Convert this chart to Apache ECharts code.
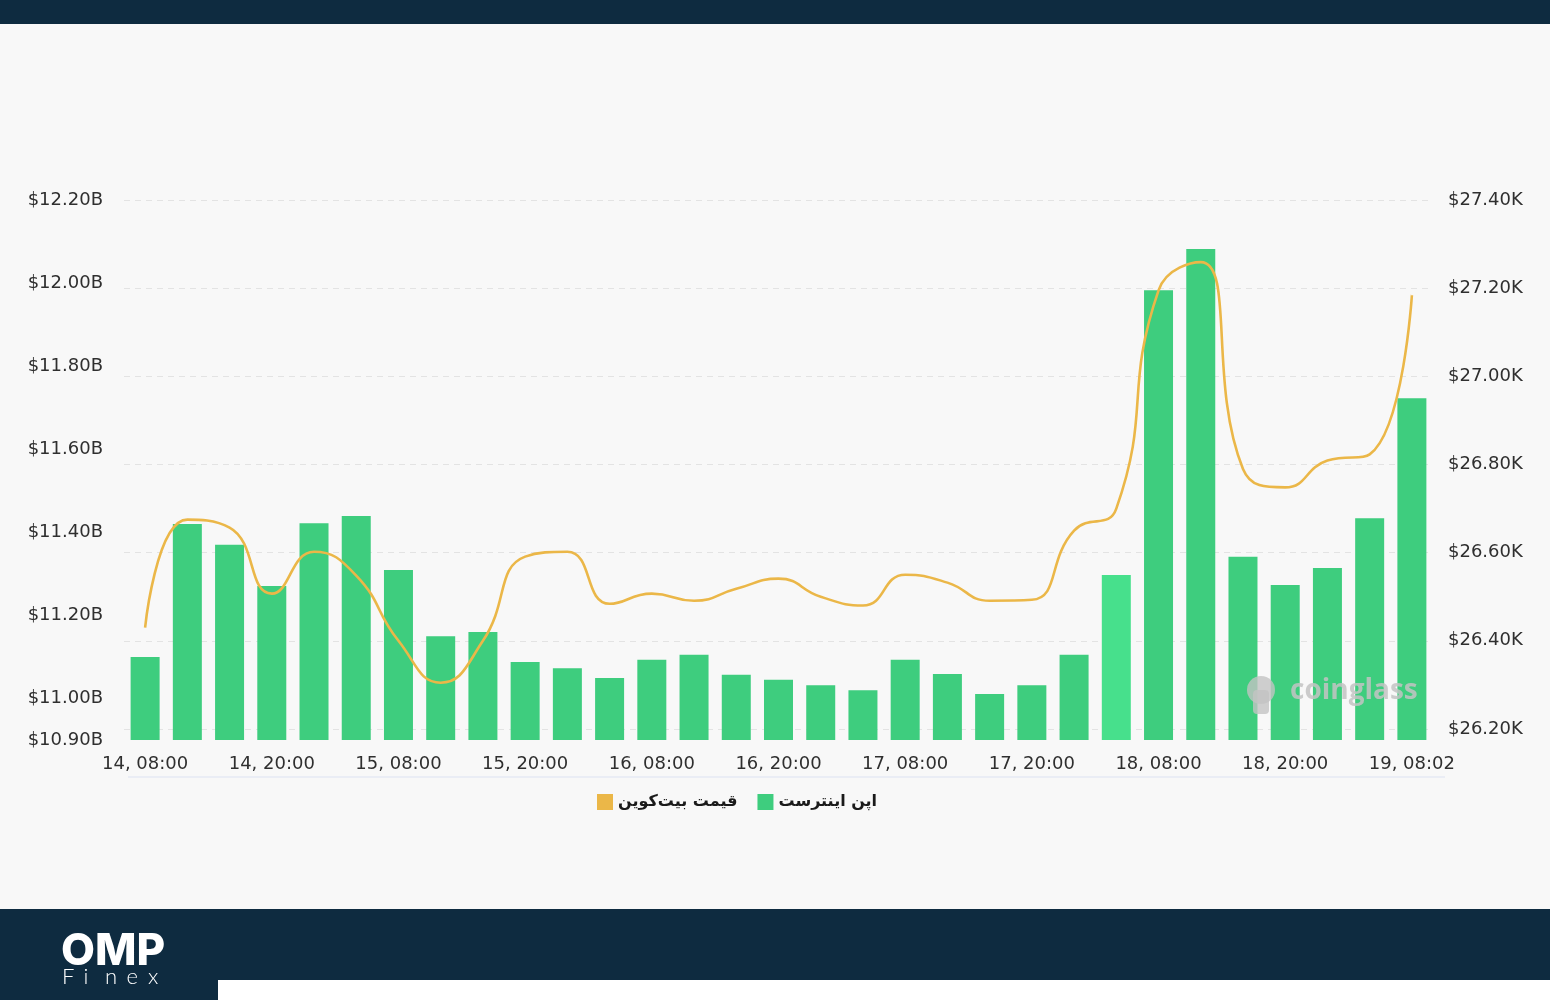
<!DOCTYPE html>
<html>
<head>
<meta charset="utf-8">
<script src="https://cdn.jsdelivr.net/npm/echarts@6/dist/echarts.min.js"></script>
<style>
html,body{margin:0;padding:0;background:#f8f8f8;}
#chart{width:1550px;height:1000px;}
</style>
</head>
<body>
<div id="chart"></div>
<script>
// ---- data ----
const categories = [
  "14, 08:00","14, 12:00","14, 16:00","14, 20:00",
  "15, 00:00","15, 04:00","15, 08:00","15, 12:00","15, 16:00","15, 20:00",
  "16, 00:00","16, 04:00","16, 08:00","16, 12:00","16, 16:00","16, 20:00",
  "17, 00:00","17, 04:00","17, 08:00","17, 12:00","17, 16:00","17, 20:00",
  "18, 00:00","18, 04:00","18, 08:00","18, 12:00","18, 16:00","18, 20:00",
  "19, 00:00","19, 04:00","19, 08:02"
];
// Open interest, billions USD
const openInterest = [
  11.100, 11.420, 11.370, 11.271, 11.422, 11.439, 11.309, 11.150, 11.160, 11.088,
  11.073, 11.049, 11.093, 11.105, 11.057, 11.045, 11.032, 11.020, 11.093, 11.059,
  11.011, 11.032, 11.105, 11.297, 11.983, 12.082, 11.341, 11.273, 11.314, 11.434,
  11.723
];
// Bitcoin price, thousands USD
const btcPrice = [
  26.430, 26.675, 26.657, 26.507, 26.602, 26.548, 26.400, 26.305, 26.400, 26.591,
  26.602, 26.484, 26.507, 26.491, 26.518, 26.541, 26.500, 26.480, 26.550, 26.532,
  26.491, 26.493, 26.650, 26.700, 27.195, 27.259, 26.790, 26.748, 26.809, 26.823,
  27.184
];
const leftTicks = [10.9, 11.0, 11.2, 11.4, 11.6, 11.8, 12.0, 12.2];
const rightTicks = [26.2, 26.4, 26.6, 26.8, 27.0, 27.2, 27.4];
const seriesNames = ["قیمت بیت‌کوین", "اپن اینترست"];
const highlightIndex = 23;

const BAR = '#3ecd7e';
const BAR_HI = '#47e08c';
const LINE = '#ebb748';
const LABEL = '#2f2f2f';
const FONT = 'DejaVu Sans';

const chart = echarts.init(document.getElementById('chart'), null, {renderer: 'canvas'});

const finexLetters = ['F','i','n','e','x'];

const option = {
  backgroundColor: '#f8f8f8',
  animation: false,
  grid: {left: 124, right: 117, top: 200, bottom: 260, containLabel: false},
  legend: {
    data: [
      {name: seriesNames[0], icon: 'rect', itemStyle: {color: LINE}},
      {name: seriesNames[1], icon: 'rect', itemStyle: {color: BAR}}
    ],
    left: 592, top: 789,
    itemWidth: 16, itemHeight: 16, itemGap: 20,
    textStyle: {color: '#1a1a1a', fontSize: 16, fontWeight: 'bold', fontFamily: FONT}
  },
  xAxis: {
    type: 'category',
    data: categories,
    boundaryGap: true,
    axisLine: {show: false},
    axisTick: {show: false},
    axisLabel: {interval: 2, color: LABEL, fontSize: 18, fontFamily: FONT, margin: 15}
  },
  yAxis: [
    {
      type: 'value', position: 'left',
      min: 10.9, max: 12.2,
      splitLine: {show: false},
      axisLine: {show: false}, axisTick: {show: false},
      axisLabel: {
        customValues: leftTicks,
        color: LABEL, fontSize: 18, fontFamily: FONT, margin: 21,
        formatter: v => '$' + v.toFixed(2) + 'B'
      }
    },
    {
      type: 'value', position: 'right',
      min: 26.175, max: 27.4,
      splitLine: {show: false},
      axisLine: {show: false}, axisTick: {show: false},
      axisLabel: {
        customValues: rightTicks,
        color: LABEL, fontSize: 18, fontFamily: FONT, margin: 15,
        formatter: v => '$' + v.toFixed(2) + 'K'
      }
    }
  ],
  series: [
    {
      name: '__grid', type: 'line', yAxisIndex: 1, data: categories.map(() => null),
      silent: true, z: 0, showSymbol: false, lineStyle: {opacity: 0},
      markLine: {
        silent: true, symbol: 'none', animation: false, z: 0,
        label: {show: false},
        lineStyle: {color: '#e3e3e3', type: [6, 5], width: 1},
        emphasis: {disabled: true},
        data: rightTicks.map(v => ({yAxis: v}))
      }
    },
    {
      name: seriesNames[1], type: 'bar', yAxisIndex: 0, z: 2,
      barWidth: 29,
      data: openInterest.map((v, i) => i === highlightIndex ? {value: v, itemStyle: {color: BAR_HI}} : v),
      itemStyle: {color: BAR}
    },
    {
      name: seriesNames[0], type: 'line', yAxisIndex: 1, z: 4,
      data: btcPrice, smooth: 0.5, showSymbol: false,
      lineStyle: {color: LINE, width: 2.6},
      itemStyle: {color: LINE}
    }
  ],
  graphic: [
    {type: 'rect', shape: {x: 0, y: 0, width: 1550, height: 24}, style: {fill: '#0e2b40'}, z: 0},
    {type: 'rect', shape: {x: 0, y: 909, width: 1550, height: 91}, style: {fill: '#0e2b40'}, z: 0},
    {type: 'rect', shape: {x: 218, y: 980, width: 1332, height: 20}, style: {fill: '#ffffff'}, z: 1},
    {type: 'line', shape: {x1: 128, y1: 777, x2: 1445, y2: 777}, style: {stroke: '#e6eaf4', lineWidth: 1.5}, z: 0},
    {type: 'text', left: 61, top: 930, style: {text: 'OMP', fill: '#ffffff', font: '800 44px Inter'}, z: 2},
    ...finexLetters.map((ch, i) => ({
      type: 'text', x: 62 + i * 21.5, y: 966,
      style: {text: ch, fill: '#ffffff', font: '300 22px Lato'}, z: 2
    })),
    {type: 'text', x: 1290, y: 677, style: {text: 'coinglass', fill: 'rgba(195,195,195,0.85)', font: 'bold 28px "Open Sans"'}, z: 3},
    {type: 'circle', shape: {cx: 1261, cy: 690, r: 14}, style: {fill: 'rgba(195,195,195,0.8)'}, z: 3},
    {type: 'rect', shape: {x: 1253, y: 690, width: 16, height: 24, r: 4}, style: {fill: 'rgba(195,195,195,0.8)'}, z: 3}
  ]
};
chart.setOption(option);
</script>
</body>
</html>
